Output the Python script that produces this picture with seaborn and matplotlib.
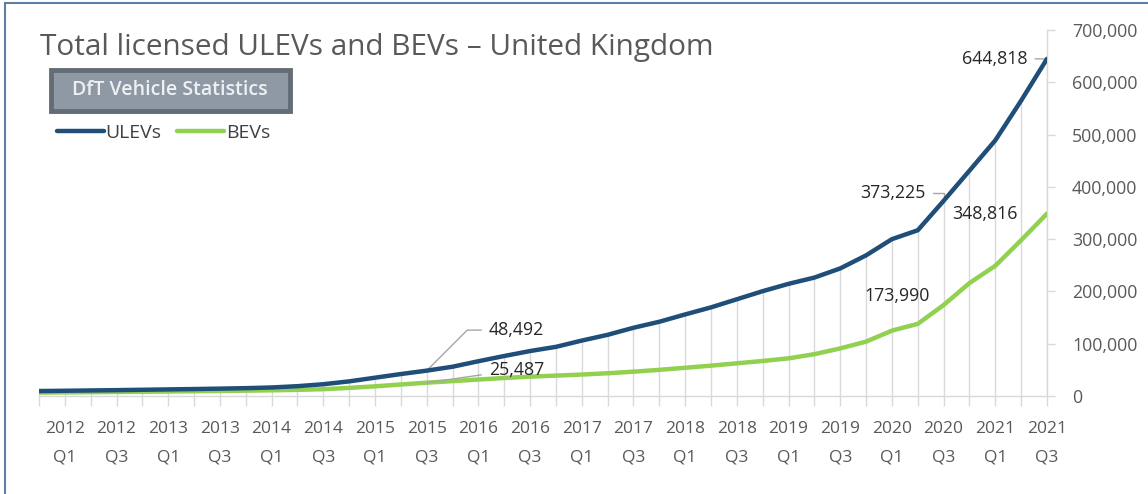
import matplotlib
matplotlib.use("Agg")
import matplotlib.pyplot as plt
import matplotlib.patches as mpatches
import seaborn as sns
import pandas as pd
import numpy as np

# ---- data ----
quarters = [
    "2011 Q4",
    "2012 Q1", "2012 Q2", "2012 Q3", "2012 Q4",
    "2013 Q1", "2013 Q2", "2013 Q3", "2013 Q4",
    "2014 Q1", "2014 Q2", "2014 Q3", "2014 Q4",
    "2015 Q1", "2015 Q2", "2015 Q3", "2015 Q4",
    "2016 Q1", "2016 Q2", "2016 Q3", "2016 Q4",
    "2017 Q1", "2017 Q2", "2017 Q3", "2017 Q4",
    "2018 Q1", "2018 Q2", "2018 Q3", "2018 Q4",
    "2019 Q1", "2019 Q2", "2019 Q3", "2019 Q4",
    "2020 Q1", "2020 Q2", "2020 Q3", "2020 Q4",
    "2021 Q1", "2021 Q2", "2021 Q3",
]
ulevs = [9500, 10000, 10600, 11200, 11900, 12600, 13300, 14100, 15000, 16300,
         18800, 22500, 28000, 35000, 42000, 48492, 56000, 66500, 76500, 86000,
         94000, 106000, 117000, 130500, 142000, 156000, 169500, 185000, 200500, 214500,
         226500, 244000, 269000, 300000, 317000, 373225, 431000, 489000, 565000, 644818]
bevs = [6500, 6900, 7300, 7700, 8100, 8600, 9100, 9600, 10200, 10900,
        11800, 13000, 15500, 18500, 22000, 25487, 28500, 31500, 34500, 37000,
        39000, 41000, 43500, 46500, 50000, 54000, 58000, 62500, 67000, 72000,
        80000, 91000, 104000, 125000, 138000, 173990, 216000, 249000, 298000, 348816]
y_ticks = [0, 100000, 200000, 300000, 400000, 500000, 600000, 700000]
title = "Total licensed ULEVs and BEVs \u2013 United Kingdom"
badge = "DfT Vehicle Statistics"

df = pd.DataFrame({"idx": np.arange(len(quarters)), "quarter": quarters,
                   "ULEVs": ulevs, "BEVs": bevs})

sns.set_theme(style="white")
plt.rcParams["font.family"] = ["Open Sans", "DejaVu Sans"]

W, H = 1148, 494
fig = plt.figure(figsize=(W / 100, H / 100), dpi=100)
ax = fig.add_axes([39 / W, (H - 396) / H, (1047 - 39) / W, (396 - 30) / H])

ulev_c = "#1f4e79"
bev_c = "#92d050"
grey_txt = "#595959"

# drop lines
ax.vlines(df["idx"], 0, df["ULEVs"], color="#d9d9d9", lw=1.0, zorder=1)

sns.lineplot(data=df, x="idx", y="BEVs", ax=ax, color=bev_c, lw=3.2, label="BEVs", zorder=3)
sns.lineplot(data=df, x="idx", y="ULEVs", ax=ax, color=ulev_c, lw=3.2, label="ULEVs", zorder=4)

ax.set_xlim(0, len(quarters) - 1)
ax.set_ylim(0, 700000)
ax.set_xlabel("")
ax.set_ylabel("")

# x ticks
xt_labels = [q.replace(" ", "\n") if i % 2 == 1 else "" for i, q in enumerate(quarters)]
ax.set_xticks(df["idx"])
ax.set_xticklabels(xt_labels, fontsize=12.5, color=grey_txt, linespacing=2.0)
# y ticks on right
ax.yaxis.tick_right()
ax.set_yticks(y_ticks)
ax.set_yticklabels([f"{v:,}" for v in y_ticks], fontsize=12.8, color=grey_txt)

for s in ["top", "left"]:
    ax.spines[s].set_visible(False)
for s in ["bottom", "right"]:
    ax.spines[s].set_color("#d9d9d9")
    ax.spines[s].set_linewidth(1.0)
ax.tick_params(axis="x", which="major", length=7, width=1, color="#d9d9d9", pad=11, bottom=True)
ax.tick_params(axis="y", which="major", length=6, width=1, color="#d9d9d9", pad=12, right=True, left=False)
ax.grid(False)

# annotations
ann_c = "#262626"
lead = dict(arrowstyle="-", color="#a6a6a6", lw=1.0, shrinkA=3, shrinkB=0)
ax.annotate("644,818", xy=(39, 644818), xytext=(38.25, 644818), ha="right", va="center",
            fontsize=12.8, color=ann_c, arrowprops=lead)
ax.annotate("373,225", xy=(35, 373225), xytext=(34.3, 389000), ha="right", va="center",
            fontsize=12.8, color=ann_c,
            arrowprops=dict(lead, connectionstyle="angle,angleA=0,angleB=90,rad=0"))
ax.annotate("48,492", xy=(15, 48492), xytext=(17.4, 126000), ha="left", va="center",
            fontsize=12.8, color=ann_c,
            arrowprops=dict(lead, connectionstyle="angle,angleA=0,angleB=45,rad=0"))
ax.annotate("25,487", xy=(15, 25487), xytext=(17.4, 50000), ha="left", va="center",
            fontsize=12.8, color=ann_c, arrowprops=lead)
ax.text(36.6, 349000, "348,816", ha="center", va="center", fontsize=12.8, color=ann_c)
ax.text(33.2, 191000, "173,990", ha="center", va="center", fontsize=12.8, color=ann_c)

# legend
handles, labels = ax.get_legend_handles_labels()
order = [labels.index("ULEVs"), labels.index("BEVs")]
leg = ax.legend([handles[i] for i in order], [labels[i] for i in order],
                loc="center left", bbox_to_anchor=(57 / W, 1 - 133 / H),
                bbox_transform=fig.transFigure, ncol=2, frameon=False,
                fontsize=14, handlelength=2.4, handletextpad=0.1, columnspacing=0.8,
                borderaxespad=0, borderpad=0)
for t in leg.get_texts():
    t.set_color("#404040")

# title
fig.text(40 / W, 1 - 47 / H, title, ha="left", va="center", fontsize=21.4, color=grey_txt)

# badge
fig.patches.append(mpatches.Rectangle((51 / W, 1 - 111 / H), 239 / W, 41 / H,
                                      transform=fig.transFigure, facecolor="#8e99a5",
                                      edgecolor="#646c75", lw=3.5, zorder=5))
fig.text(170 / W, 1 - 90 / H, badge, ha="center", va="center", fontsize=14,
         fontweight="semibold", color="#eef0f2", zorder=6)

# outer frame
fig.patches.append(mpatches.Rectangle((5 / W, -0.05), 1.2, 1 - 3 / H + 0.05,
                                      transform=fig.transFigure, fill=False,
                                      edgecolor="#5b7ea6", lw=1.5, zorder=0))

fig.savefig("out.png", dpi=100)
